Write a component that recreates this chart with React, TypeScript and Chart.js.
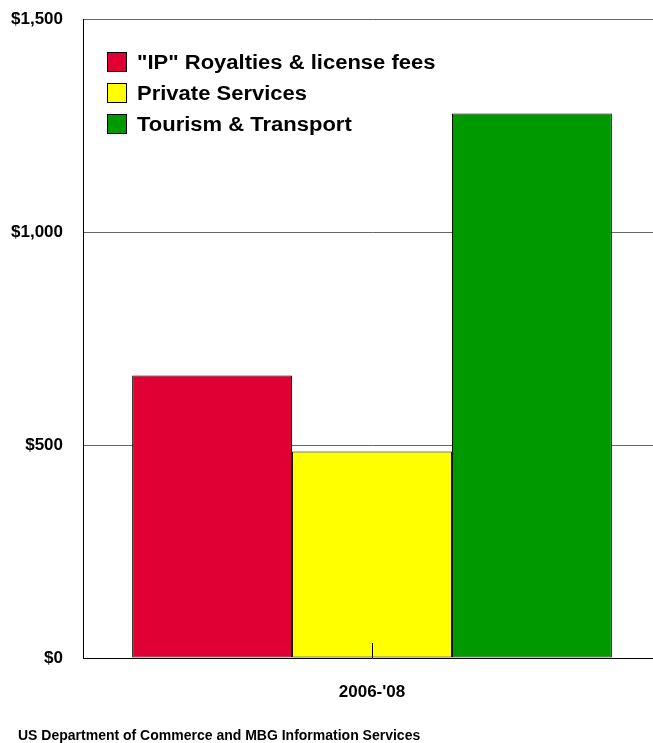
import React, { useEffect, useRef } from "react";
import { Chart, registerables } from "chart.js";

Chart.register(...registerables);

const categories = ["2006-'08"];
const seriesLabels = ['"IP" Royalties & license fees', "Private Services", "Tourism & Transport"];
const ipRoyalties = [663];
const privateServices = [485];
const tourismTransport = [1278];
const seriesColors = ["#E00034", "#FFFF00", "#009900"];
const yTicks = [0, 500, 1000, 1500];
const footerText = "US Department of Commerce and MBG Information Services";

const FONT = "'Liberation Sans', Arial, sans-serif";

const legendPlugin = {
  id: "innerLegend",
  afterDraw(chart: any) {
    const ctx = chart.ctx;
    const area = chart.chartArea;
    ctx.save();
    ctx.font = `bold 20px ${FONT}`;
    ctx.textBaseline = "middle";
    chart.data.datasets.forEach((ds: any, i: number) => {
      const y = area.top + 43 + i * 31;
      const x = area.left + 24;
      ctx.fillStyle = ds.backgroundColor;
      ctx.fillRect(x, y - 10, 20, 20);
      ctx.strokeStyle = "#000";
      ctx.lineWidth = 1;
      ctx.strokeRect(x + 0.5, y - 9.5, 19, 19);
      ctx.fillStyle = "#000";
      ctx.save();
      ctx.translate(x + 30, y + 1);
      ctx.scale(1.1, 1);
      ctx.fillText(ds.label, 0, 0);
      ctx.restore();
    });
    ctx.restore();
  },
};

const innerTickPlugin = {
  id: "innerTick",
  afterDatasetsDraw(chart: any) {
    const ctx = chart.ctx;
    const xs = chart.scales.x;
    const area = chart.chartArea;
    ctx.save();
    ctx.strokeStyle = "#000";
    ctx.lineWidth = 1;
    for (let i = 0; i < xs.ticks.length; i++) {
      const px = Math.round(xs.getPixelForTick(i)) + 0.5;
      ctx.beginPath();
      ctx.moveTo(px, area.bottom);
      ctx.lineTo(px, area.bottom - 15);
      ctx.stroke();
    }
    ctx.restore();
  },
};

const footerPlugin = {
  id: "footerText",
  afterDraw(chart: any) {
    const ctx = chart.ctx;
    ctx.save();
    ctx.font = `bold 14px ${FONT}`;
    ctx.fillStyle = "#000";
    ctx.textBaseline = "middle";
    ctx.textAlign = "left";
    ctx.fillText(footerText, 18, chart.height - 7);
    ctx.restore();
  },
};

export default function App() {
  const ref = useRef<HTMLCanvasElement>(null);
  useEffect(() => {
    if (!ref.current) return;
    const chart = new Chart(ref.current, {
      type: "bar",
      data: {
        labels: categories,
        datasets: [
          { label: seriesLabels[0], data: ipRoyalties, backgroundColor: seriesColors[0] },
          { label: seriesLabels[1], data: privateServices, backgroundColor: seriesColors[1] },
          { label: seriesLabels[2], data: tourismTransport, backgroundColor: seriesColors[2] },
        ].map((d) => ({
          ...d,
          borderColor: "#000",
          borderWidth: 1,
          borderSkipped: false,
          barPercentage: 1,
          categoryPercentage: 0.83,
        })),
      },
      options: {
        animation: false,
        responsive: false,
        maintainAspectRatio: false,
        layout: { padding: { top: 19, right: 1, left: 0, bottom: 0 } },
        plugins: {
          legend: { display: false },
          tooltip: { enabled: false },
          title: { display: false },
        },
        scales: {
          x: {
            grid: { display: false, drawTicks: false },
            border: { color: "#000", width: 1 },
            ticks: {
              color: "#000",
              padding: 24,
              font: { family: FONT, size: 17, weight: "bold" },
            },
            afterFit(scale: any) {
              scale.height = 85;
              scale.paddingLeft = 0;
              scale.paddingRight = 0;
            },
          },
          y: {
            min: 0,
            max: 1500,
            afterBuildTicks(scale: any) {
              scale.ticks = yTicks.map((v) => ({ value: v }));
            },
            grid: { color: "#666", drawTicks: false, lineWidth: 1 },
            border: { color: "#000", width: 1 },
            ticks: {
              color: "#000",
              padding: 20,
              font: { family: FONT, size: 17, weight: "bold" },
              callback: (v: any) => "$" + Number(v).toLocaleString("en-US"),
            },
            afterFit(scale: any) {
              scale.width = 83;
              scale.paddingTop = 0;
              scale.paddingBottom = 0;
            },
          },
        },
      },
      plugins: [legendPlugin, innerTickPlugin, footerPlugin],
    });
    return () => chart.destroy();
  }, []);
  return (
    <div
      style={{
        position: "fixed",
        left: 0,
        top: 0,
        width: 653,
        height: 743,
        overflow: "hidden",
        background: "#fff",
      }}
    >
      <canvas ref={ref} width={662} height={743} style={{ width: 662, height: 743, display: "block" }} />
    </div>
  );
}
